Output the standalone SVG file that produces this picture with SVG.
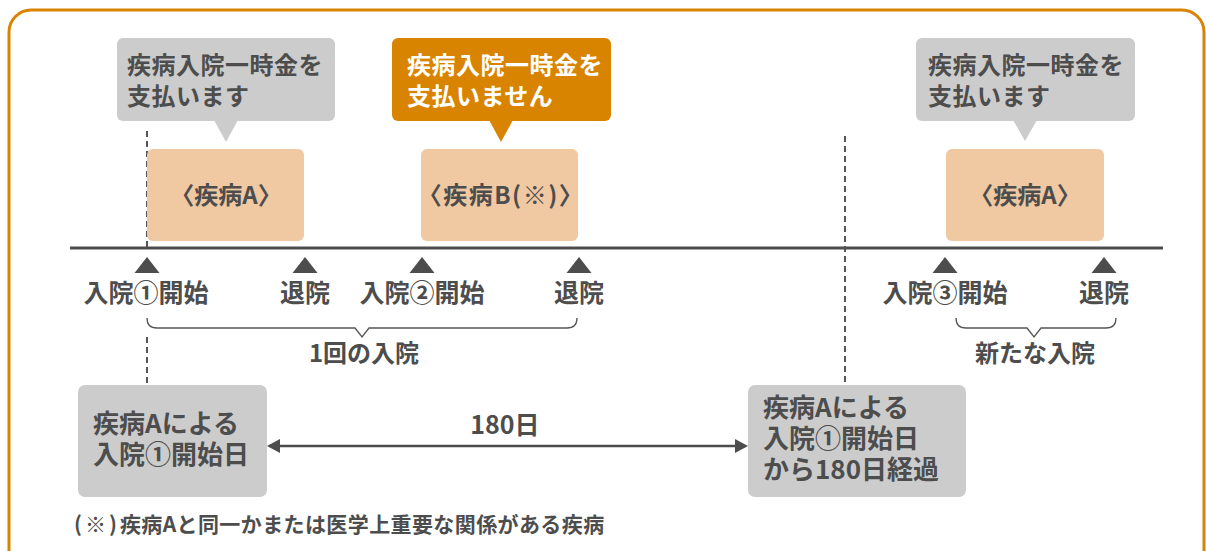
<svg xmlns="http://www.w3.org/2000/svg" width="1206" height="551" viewBox="0 0 1206 551">
<style>
.t{font-family:"Noto Sans CJK JP","Noto Sans",sans-serif;font-weight:700;fill:#4d4d4d}
.w{fill:#ffffff}
.c24{font-size:24px}
.c25{font-size:25px}
.c26{font-size:26px}
.c21{font-size:21px;letter-spacing:0.4px}
.ls{letter-spacing:0.5px}
.mid{text-anchor:middle}
.gray{fill:#cccccc}
.peach{fill:#f0c8a2}
.orange{fill:#d98400}
.tri{fill:#4d4d4d}
.dash{stroke:#555555;stroke-width:2;stroke-dasharray:6 4;fill:none}
.brace{stroke:#555555;stroke-width:1.3;fill:none}
</style>
<rect x="9" y="10" width="1195" height="620" rx="22" fill="#ffffff" stroke="#d98400" stroke-width="3"/>

<g id="connectors">
  <line x1="70" y1="248" x2="1163" y2="248" stroke="#4d4d4d" stroke-width="3"/>
  <line class="dash" x1="147" y1="131" x2="147" y2="248"/>
  <line class="dash" x1="147" y1="337" x2="147" y2="385"/>
  <line class="dash" x1="845" y1="136" x2="845" y2="385"/>
  <path class="brace" d="M147,318 Q147,328 157,328 L355,328 L362,337 L369,328 L567,328 Q577,328 577,318"/>
  <path class="brace" d="M956,318 Q956,328 966,328 L1027,328 L1034,337 L1041,328 L1106,328 Q1116,328 1116,318"/>
  <line x1="278" y1="446" x2="737" y2="446" stroke="#4d4d4d" stroke-width="2.5"/>
  <polygon class="tri" points="267,446 280,439 280,453"/>
  <polygon class="tri" points="748,446 735,439 735,453"/>
  <polygon class="tri" points="147,257 159.5,273 134.5,273"/>
  <polygon class="tri" points="305,257 317.5,273 292.5,273"/>
  <polygon class="tri" points="422,257 434.5,273 409.5,273"/>
  <polygon class="tri" points="579,257 591.5,273 566.5,273"/>
  <polygon class="tri" points="945,257 957.5,273 932.5,273"/>
  <polygon class="tri" points="1104,257 1116.5,273 1091.5,273"/>
</g>

<g id="callout1">
  <rect class="gray" x="117" y="38" width="218" height="83" rx="6"/>
  <polygon class="gray" points="214,120 238,120 226,142"/>
  <text class="t c24 ls" x="127" y="74">疾病入院一時金を<tspan x="127" dy="31">支払います</tspan></text>
</g>
<g id="callout2">
  <rect class="orange" x="392" y="38" width="219" height="83" rx="6"/>
  <polygon class="orange" points="489,120 513,120 501,142"/>
  <text class="t w c24 ls" x="407" y="74">疾病入院一時金を<tspan x="407" dy="31">支払いません</tspan></text>
</g>
<g id="callout3">
  <rect class="gray" x="916" y="38" width="219" height="83" rx="6"/>
  <polygon class="gray" points="1013,120 1037,120 1025,141"/>
  <text class="t c24 ls" x="928" y="74">疾病入院一時金を<tspan x="928" dy="31">支払います</tspan></text>
</g>

<g id="diseaseA1">
  <rect class="peach" x="147" y="149" width="157" height="92" rx="6"/>
  <text class="t c24 mid" x="226" y="204">〈疾病A〉</text>
</g>
<g id="diseaseB">
  <rect class="peach" x="421" y="149" width="157" height="92" rx="6"/>
  <text class="t c24 mid" x="501" y="204" letter-spacing="1.5">〈疾病B(※)〉</text>
</g>
<g id="diseaseA2">
  <rect class="peach" x="946" y="149" width="158" height="92" rx="6"/>
  <text class="t c24 mid" x="1025" y="204">〈疾病A〉</text>
</g>

<g id="labels">
  <text class="t c25 mid" x="146" y="302">入院①開始</text>
  <text class="t c25 mid" x="305" y="302">退院</text>
  <text class="t c25 mid" x="422" y="302">入院②開始</text>
  <text class="t c25 mid" x="579" y="302">退院</text>
  <text class="t c25 mid" x="945" y="302">入院③開始</text>
  <text class="t c25 mid" x="1104" y="302">退院</text>
  <text class="t c24 mid" x="364" y="362">1回の入院</text>
  <text class="t c24 mid" x="1035" y="362">新たな入院</text>
  <text class="t c25 mid" x="505" y="434">180日</text>
</g>

<g id="startDay">
  <rect class="gray" x="78" y="385" width="189" height="112" rx="7"/>
  <text class="t c26" x="93" y="433">疾病Aによる<tspan x="93" dy="31">入院①開始日</tspan></text>
</g>
<g id="after180">
  <rect class="gray" x="748" y="385" width="218" height="112" rx="7"/>
  <text class="t c26" x="763" y="417">疾病Aによる<tspan x="763" dy="31">入院①開始日</tspan><tspan x="763" dy="31">から180日経過</tspan></text>
</g>

<g id="footnote">
  <text class="t c21" x="74" y="532"><tspan letter-spacing="3">(※)</tspan>疾病Aと同一かまたは医学上重要な関係がある疾病</text>
</g>
</svg>
